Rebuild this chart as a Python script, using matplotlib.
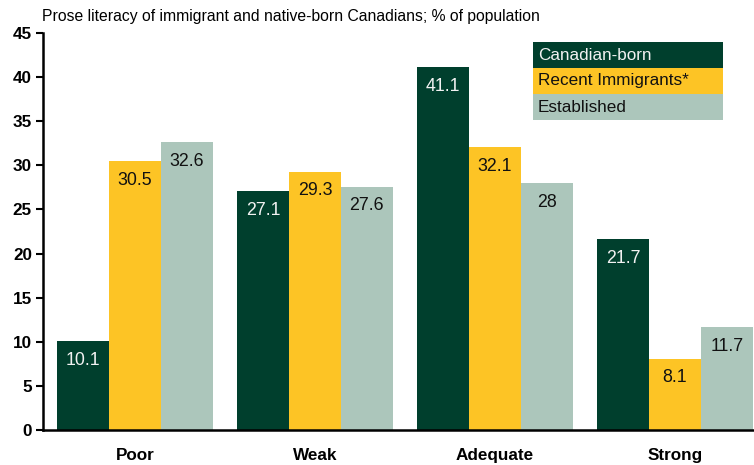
import matplotlib.pyplot as plt
from matplotlib.patches import Rectangle
import numpy as np

plt.rcParams['font.family'] = ['Liberation Sans', 'DejaVu Sans']

categories = ['Poor', 'Weak', 'Adequate', 'Strong']
series_names = ['Canadian-born', 'Recent Immigrants*', 'Established']
canadian_born = [10.1, 27.1, 41.1, 21.7]
recent_immigrants = [30.5, 29.3, 32.1, 8.1]
established = [32.6, 27.6, 28, 11.7]
y_ticks = [0, 5, 10, 15, 20, 25, 30, 35, 40, 45]

colors = ['#003f2d', '#fdc425', '#acc6bb']
label_colors = ['#f2f2f2', '#111111', '#111111']

fig = plt.figure(figsize=(7.54, 4.65), dpi=100)
ax = fig.add_axes([43 / 754, 35 / 465, 1 - 43 / 754, 397 / 465])

x = np.arange(len(categories))
width = 0.288
for i, (vals, col, lc) in enumerate(zip([canadian_born, recent_immigrants, established],
                                        colors, label_colors)):
    pos = x + (i - 1) * width
    ax.bar(pos, vals, width, color=col, linewidth=0)
    for p, v in zip(pos, vals):
        ax.annotate(f'{v:g}', (p, v), xytext=(0, -14), textcoords='offset points',
                    ha='center', va='center', fontsize=12.8, color=lc)

ax.set_xlim(-0.511, 3.439)
ax.set_ylim(0, 45)
ax.set_yticks(y_ticks)
ax.set_xticks(x)
ax.set_xticklabels(categories, fontsize=12.3, fontweight='bold')
ax.tick_params(axis='x', length=0, pad=13)
ax.tick_params(axis='y', direction='out', length=5, width=1.5, labelsize=12.3, pad=3)
for lbl in ax.get_yticklabels():
    lbl.set_fontweight('bold')
ax.spines['top'].set_visible(False)
ax.spines['right'].set_visible(False)
ax.spines['left'].set_linewidth(1.8)
ax.spines['bottom'].set_linewidth(1.8)

fig.text(42 / 754, 1 - 17 / 465, 'Prose literacy of immigrant and native-born Canadians; % of population',
         fontsize=11.3, va='center', ha='left')

# legend as stacked colored boxes
box_left, box_w, box_h, box_top = 533, 190, 26, 42
for i, (name, col, lc) in enumerate(zip(series_names, colors, label_colors)):
    top = box_top + i * box_h
    fig.patches.append(Rectangle((box_left / 754, 1 - (top + box_h) / 465), box_w / 754, box_h / 465,
                                 transform=fig.transFigure, facecolor=col, edgecolor='none'))
    fig.text((box_left + 5) / 754, 1 - (top + box_h / 2) / 465, name, fontsize=12.3,
             color=lc, va='center', ha='left')

fig.savefig('out.png', dpi=100)
